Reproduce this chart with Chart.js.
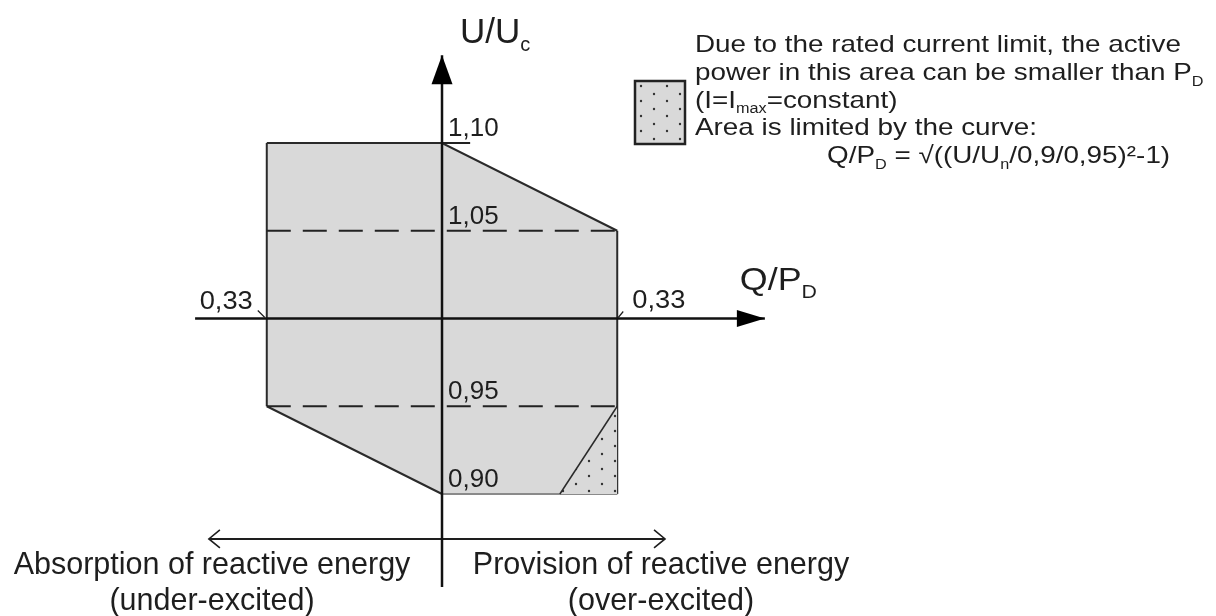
<!DOCTYPE html>
<html>
<head>
<meta charset="utf-8">
<script src="https://cdn.jsdelivr.net/npm/chart.js@4.4.1/dist/chart.umd.min.js"></script>
<style>
  html, body { margin: 0; padding: 0; background: #fff; }
  #wrap { width: 1216px; height: 616px; }
</style>
</head>
<body>
<div id="wrap"><canvas id="chart" width="1216" height="616"></canvas></div>
<script>
// operating area (Q/PD, U/Uc): upper and lower boundary
const areaQ = [-0.33, 0, 0.33];
const areaTopU = [1.10, 1.10, 1.05];
const areaBottomU = [0.95, 0.90, 0.90];

// area where active power may be reduced (dotted)
const limitQ = [0.222, 0.33];
const limitCurveU = [0.90, 0.95];
const limitBaseU = [0.90, 0.90];

// dashed voltage levels
const dashedU = [1.05, 0.95];

// voltage axis labels
const uTicks = [1.10, 1.05, 0.95, 0.90];
const uTickLabels = ['1,10', '1,05', '0,95', '0,90'];

// reactive power axis labels
const qTicks = [-0.33, 0.33];
const qTickLabels = ['0,33', '0,33'];

// axis extents, in data units
const axisQ = [-0.465, 0.608];
const axisU = [0.847, 1.150];
const excitationU = 0.8744;
const excitationQ = [-0.439, 0.42];

const FONT = "'Liberation Sans', Arial, sans-serif";
const INK = '#1e1e1e';

const pts = (xs, ys) => xs.map((x, i) => ({ x, y: ys[i] }));

function dotPattern() {
    const c = document.createElement('canvas');
    c.width = 26; c.height = 30;
    const g = c.getContext('2d');
    g.fillStyle = '#d9d9d9';
    g.fillRect(0, 0, 26, 30);
    g.fillStyle = '#333';
    [[4, 4], [4, 19], [17, 11], [17, 26]].forEach(([x, y]) => {
        g.beginPath();
        g.arc(x, y, 1.2, 0, Math.PI * 2);
        g.fill();
    });
    return g.createPattern(c, 'repeat');
}

// text with sub/superscripts, optionally stretched horizontally
function richText(ctx, parts, x, y, size, sx, align) {
    ctx.save();
    ctx.translate(x, y);
    ctx.scale(sx || 1, 1);
    ctx.textBaseline = 'alphabetic';
    ctx.textAlign = 'left';
    ctx.fillStyle = INK;
    const fontFor = k => (k ? Math.round(size * 0.58) : size) + 'px ' + FONT;
    let total = 0;
    parts.forEach(([t, k]) => { ctx.font = fontFor(k); total += ctx.measureText(t).width; });
    let cx = align === 'center' ? -total / 2 : align === 'right' ? -total : 0;
    parts.forEach(([t, k]) => {
        ctx.font = fontFor(k);
        const dy = k === 'sub' ? size * 0.24 : k === 'sup' ? -size * 0.4 : 0;
        ctx.fillText(t, cx, dy);
        cx += ctx.measureText(t).width;
    });
    ctx.restore();
}

const pattern = dotPattern();

const annotations = {
    id: 'annotations',
    afterDraw(chart) {
        const ctx = chart.ctx;
        const xs = chart.scales.x, ys = chart.scales.y;
        const px = v => xs.getPixelForValue(v);
        const py = v => ys.getPixelForValue(v);
        const x0 = px(0), y0 = py(1);

        ctx.save();
        ctx.fillStyle = '#000';
        // arrow heads of the axes
        const top = py(axisU[1]);
        ctx.beginPath();
        ctx.moveTo(x0, top);
        ctx.lineTo(x0 - 10.5, top + 29);
        ctx.lineTo(x0 + 10.5, top + 29);
        ctx.closePath();
        ctx.fill();
        const right = px(axisQ[1]);
        ctx.beginPath();
        ctx.moveTo(right, y0);
        ctx.lineTo(right - 28, y0 - 8.5);
        ctx.lineTo(right - 28, y0 + 8.5);
        ctx.closePath();
        ctx.fill();

        // open arrow heads below
        const ey = py(excitationU);
        ctx.strokeStyle = INK;
        ctx.lineWidth = 1.6;
        const l = px(excitationQ[0]), r = px(excitationQ[1]);
        ctx.beginPath();
        ctx.moveTo(l + 11, ey - 9); ctx.lineTo(l, ey); ctx.lineTo(l + 11, ey + 9);
        ctx.moveTo(r - 11, ey - 9); ctx.lineTo(r, ey); ctx.lineTo(r - 11, ey + 9);
        ctx.stroke();

        // small leaders for 0,33
        ctx.lineWidth = 1.2;
        ctx.beginPath();
        ctx.moveTo(px(qTicks[0]) - 9, y0 - 8); ctx.lineTo(px(qTicks[0]) - 2, y0 - 1);
        ctx.moveTo(px(qTicks[1]) + 6, y0 - 7); ctx.lineTo(px(qTicks[1]) + 1, y0 - 1);
        ctx.stroke();

        // legend box
        ctx.fillStyle = pattern;
        ctx.fillRect(635, 81, 50, 63);
        ctx.strokeStyle = '#222';
        ctx.lineWidth = 2.5;
        ctx.strokeRect(635, 81, 50, 63);
        ctx.restore();

        // voltage labels
        uTicks.forEach((u, i) => richText(ctx, [[uTickLabels[i], '']], x0 + 6, py(u) - 7, 26));
        richText(ctx, [[qTickLabels[0], '']], px(qTicks[0]) - 14, y0 - 9, 26, 1.05, 'right');
        richText(ctx, [[qTickLabels[1], '']], px(qTicks[1]) + 15, y0 - 10, 26, 1.05);

        // axis titles
        richText(ctx, [['U/U', ''], ['c', 'sub']], x0 + 18, 43, 35);
        richText(ctx, [['Q/P', ''], ['D', 'sub']], px(axisQ[1]) - 25, y0 - 28, 32, 1.12);

        // legend text
        const lx = 695, lh = 27.8, sx = 1.16, fs = 24;
        richText(ctx, [['Due to the rated current limit, the active', '']], lx, 52, fs, sx);
        richText(ctx, [['power in this area can be smaller than P', ''], ['D', 'sub']], lx, 52 + lh, fs, sx);
        richText(ctx, [['(I=I', ''], ['max', 'sub'], ['=constant)', '']], lx, 52 + 2 * lh, fs, sx);
        richText(ctx, [['Area is limited by the curve:', '']], lx, 52 + 3 * lh, fs, sx);
        richText(ctx, [['Q/P', ''], ['D', 'sub'], [' = \u221A((U/U', ''], ['n', 'sub'], ['/0,9/0,95)\u00B2-1)', '']],
            827, 52 + 4 * lh, fs, sx);

        // excitation captions
        richText(ctx, [['Absorption of reactive energy', '']], x0 - 230, ey + 35, 30.5, 1, 'center');
        richText(ctx, [['(under-excited)', '']], x0 - 230, ey + 71, 30.5, 1, 'center');
        richText(ctx, [['Provision of reactive energy', '']], x0 + 219, ey + 35, 30.5, 1, 'center');
        richText(ctx, [['(over-excited)', '']], x0 + 219, ey + 71, 30.5, 1, 'center');
    }
};

const edge = '#2a2a2a';
const datasets = [
    {
        // upper boundary, filled down to the lower boundary
        data: pts(areaQ, areaTopU),
        fill: '+1',
        backgroundColor: '#d9d9d9',
        borderColor: edge,
        borderWidth: 2,
        order: 9
    },
    {
        data: pts(areaQ, areaBottomU),
        borderColor: edge,
        borderWidth: 2,
        segment: {
            borderColor: c => c.p0.parsed.x === 0 ? '#8a8a8a' : undefined
        },
        order: 8
    },
    {
        data: pts([areaQ[0], areaQ[0]], [areaBottomU[0], areaTopU[0]]),
        borderColor: edge,
        borderWidth: 2,
        order: 7
    },
    {
        data: pts([areaQ[2], areaQ[2]], [areaBottomU[2], areaTopU[2]]),
        borderColor: edge,
        borderWidth: 2,
        order: 7
    },
    {
        data: pts(limitQ, limitCurveU),
        fill: '+1',
        backgroundColor: pattern,
        borderColor: edge,
        borderWidth: 1.5,
        order: 6
    },
    {
        data: pts(limitQ, limitBaseU),
        borderColor: '#8a8a8a',
        borderWidth: 2,
        order: 6
    },
    ...dashedU.map(u => ({
        data: pts([-0.33, 0.33], [u, u]),
        borderColor: '#222',
        borderWidth: 2.2,
        borderDash: [24, 12],
        order: 5
    })),
    {
        // underline of the 1,10 label
        data: pts([0, 0.053], [1.10, 1.10]),
        borderColor: '#222',
        borderWidth: 2,
        order: 4
    },
    {
        data: pts(axisQ, [1, 1]),
        borderColor: '#111',
        borderWidth: 2.5,
        order: 2
    },
    {
        data: pts([0, 0], axisU),
        borderColor: '#111',
        borderWidth: 2.5,
        order: 1
    },
    {
        data: pts(excitationQ, [excitationU, excitationU]),
        borderColor: INK,
        borderWidth: 2,
        order: 3
    }
];

new Chart(document.getElementById('chart'), {
    type: 'scatter',
    data: { datasets: datasets.map(d => Object.assign({ showLine: true, pointRadius: 0, tension: 0 }, d)) },
    options: {
        responsive: false,
        animation: false,
        devicePixelRatio: 1,
        layout: { padding: 0 },
        plugins: { legend: { display: false }, tooltip: { enabled: false } },
        events: [],
        scales: {
            x: { type: 'linear', min: -0.8324, max: 1.4576, display: false },
            y: { type: 'linear', min: 0.83048, max: 1.18148, display: false }
        }
    },
    plugins: [annotations]
});
</script>
</body>
</html>
